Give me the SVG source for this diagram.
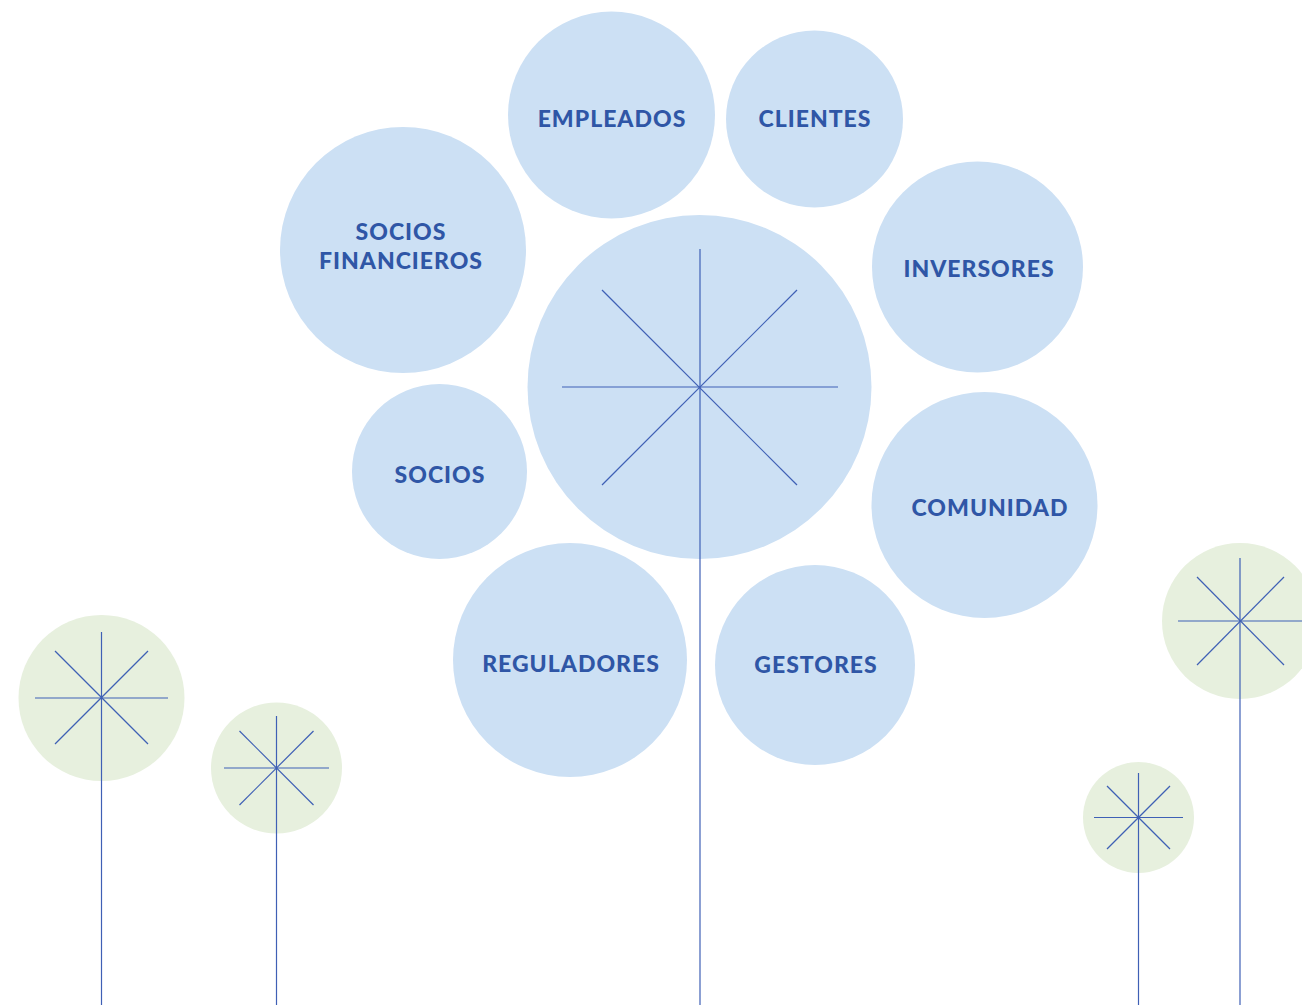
<svg xmlns="http://www.w3.org/2000/svg" width="1302" height="1005" viewBox="0 0 1302 1005">
<style>
.b{fill:#cce0f4}
.g{fill:#e7f0de}
.l{stroke:#3f60b5;stroke-width:1.2;fill:none}
.t{font-family:Lato,"Open Sans",sans-serif;font-weight:900;font-size:23px;letter-spacing:1px;fill:#2f56a6;text-anchor:middle;dominant-baseline:central}
</style>
<rect width="1302" height="1005" fill="#fff"/>
<g id="bg-flowers">
<circle class="g" cx="101.5" cy="698" r="83"/>
<circle class="g" cx="276.5" cy="768" r="65.5"/>
<circle class="g" cx="1240" cy="621" r="78"/>
<circle class="g" cx="1138.5" cy="817.5" r="55.5"/>
</g>
<g id="center"><circle class="b" cx="699.5" cy="387" r="172"/></g>
<g id="empleados"><circle class="b" cx="611.5" cy="115" r="103.5"/><text class="t" x="612" y="118">EMPLEADOS</text></g>
<g id="clientes"><circle class="b" cx="814.5" cy="119" r="88.5"/><text class="t" x="815" y="118">CLIENTES</text></g>
<g id="socios-financieros"><circle class="b" cx="403" cy="250" r="123"/><text class="t" x="401" y="231">SOCIOS</text><text class="t" x="401" y="260">FINANCIEROS</text></g>
<g id="inversores"><circle class="b" cx="977.5" cy="267" r="105.5"/><text class="t" x="979" y="268">INVERSORES</text></g>
<g id="socios"><circle class="b" cx="439.5" cy="471.5" r="87.5"/><text class="t" x="440" y="474">SOCIOS</text></g>
<g id="comunidad"><circle class="b" cx="984.5" cy="505" r="113"/><text class="t" x="990" y="507">COMUNIDAD</text></g>
<g id="reguladores"><circle class="b" cx="570" cy="660" r="117"/><text class="t" x="571" y="663">REGULADORES</text></g>
<g id="gestores"><circle class="b" cx="815" cy="665" r="100"/><text class="t" x="816" y="664">GESTORES</text></g>
<g id="connectors" class="l">
<line x1="700" y1="249" x2="700" y2="1005"/>
<line x1="562" y1="387" x2="838" y2="387"/>
<line x1="602" y1="290" x2="797" y2="485"/>
<line x1="797" y1="290" x2="602" y2="485"/>
<line x1="101.5" y1="632" x2="101.5" y2="1005"/>
<line x1="35" y1="698" x2="168" y2="698"/>
<line x1="55" y1="651" x2="148" y2="744"/>
<line x1="148" y1="651" x2="55" y2="744"/>
<line x1="276.5" y1="716" x2="276.5" y2="1005"/>
<line x1="224" y1="768" x2="329" y2="768"/>
<line x1="239.5" y1="731" x2="313.5" y2="805"/>
<line x1="313.5" y1="731" x2="239.5" y2="805"/>
<line x1="1240" y1="558" x2="1240" y2="1005"/>
<line x1="1178" y1="621" x2="1302" y2="621"/>
<line x1="1197" y1="577" x2="1284" y2="665"/>
<line x1="1284" y1="577" x2="1197" y2="665"/>
<line x1="1138.5" y1="773" x2="1138.5" y2="1005"/>
<line x1="1094" y1="817.5" x2="1183" y2="817.5"/>
<line x1="1107" y1="786" x2="1170" y2="849"/>
<line x1="1170" y1="786" x2="1107" y2="849"/>
</g>
</svg>
